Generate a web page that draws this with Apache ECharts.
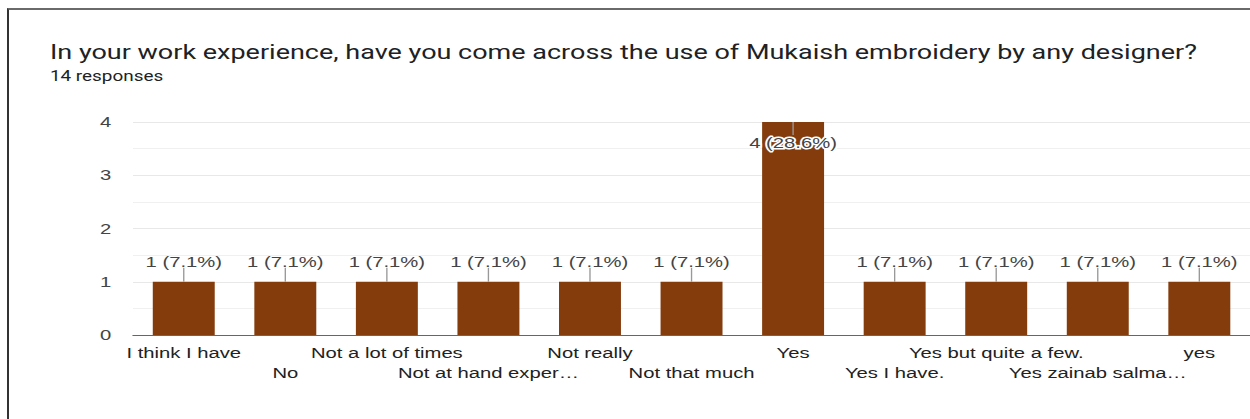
<!DOCTYPE html>
<html>
<head>
<meta charset="utf-8">
<script src="https://cdn.jsdelivr.net/npm/echarts@6/dist/echarts.min.js"></script>
<style>
  html, body { margin: 0; padding: 0; background: #fff; overflow: hidden; }
  #frame { position: absolute; left: 7px; top: 8px; width: 1243px; height: 411px;
           border-top: 2px solid #6a6a6a; border-left: 2px solid #333; box-sizing: border-box; }
  /* the card is laid out narrow and widened horizontally */
  #chart { position: absolute; left: 0; top: 0; width: 926px; height: 419px;
           transform: scaleX(1.35); transform-origin: 0 0; }
</style>
</head>
<body>
<div id="frame"></div>
<div id="chart"></div>
<script>
// Survey answers and their response counts
const categories = [
  'I think I have', 'No', 'Not a lot of times', 'Not at hand exper\u2026',
  'Not really', 'Not that much', 'Yes', 'Yes I have.',
  'Yes but quite a few.', 'Yes zainab salma\u2026', 'yes'
];
const counts = [1, 1, 1, 1, 1, 1, 4, 1, 1, 1, 1];
const totalResponses = 14;
const yTicks = [0, 1, 2, 3, 4];

const titleText = 'In your work experience, have you come across the use of Mukaish embroidery by any designer?';
const subtitleText = totalResponses + ' responses';

const barColor = '#843c0c';
const yMax = yTicks[yTicks.length - 1];

function pct(v) {
  return (Math.round(v / totalResponses * 1000) / 10).toFixed(1);
}

const chart = echarts.init(document.getElementById('chart'), null, { renderer: 'svg' });

chart.setOption({
  animation: false,
  title: [
    { text: titleText, left: 32, top: 37,
      textStyle: { fontFamily: 'Roboto', fontSize: 20, fontWeight: 'normal', color: '#202124' } },
    { text: subtitleText, left: 32, top: 64,
      textStyle: { fontFamily: 'Roboto', fontSize: 14, fontWeight: 'normal', color: '#202124' } }
  ],
  grid: { left: 98.5, top: 122, width: 831, height: 213, containLabel: false },
  xAxis: {
    type: 'category',
    data: categories,
    axisTick: { show: false },
    axisLine: { lineStyle: { color: '#666', width: 1 } },
    axisLabel: {
      interval: 0,
      margin: 8,
      fontFamily: 'Liberation Sans, Arial',
      fontSize: 15,
      color: '#222',
      lineHeight: 20,
      formatter: (v, i) => (i % 2 === 1 ? '\n' + v : v)
    }
  },
  yAxis: {
    type: 'value',
    min: 0,
    max: yMax,
    interval: 1,
    axisLine: { show: false },
    axisTick: { show: false },
    axisLabel: {
      margin: 16,
      fontFamily: 'Liberation Sans, Arial',
      fontSize: 15,
      color: '#444',
      formatter: v => (yTicks.indexOf(v) >= 0 ? String(v) : '')
    },
    splitLine: { lineStyle: { color: '#e8e8e8' } },
    minorTick: { show: false, splitNumber: 2 },
    minorSplitLine: { show: true, lineStyle: { color: '#f0f0f0' } }
  },
  series: [
    {
      type: 'bar',
      data: counts,
      barWidth: '61%',
      itemStyle: { color: barColor },
      z: 2
    },
    {
      // value annotations with a short leader tick
      type: 'custom',
      data: counts.map((v, i) => [i, v]),
      z: 5,
      renderItem: (params, api) => {
        const i = api.value(0);
        const v = api.value(1);
        const top = api.coord([i, v]);
        const text = v + ' (' + pct(v) + '%)';
        const inside = v >= yMax;
        const font = '15px "Liberation Sans", Arial';
        if (inside) {
          return {
            type: 'group',
            children: [
              { type: 'line', shape: { x1: top[0], y1: top[1], x2: top[0], y2: top[1] + 13 },
                style: { stroke: '#999', lineWidth: 1 } },
              { type: 'text', x: top[0], y: top[1] + 21,
                style: { text: text, font: font, fill: '#444', align: 'center', verticalAlign: 'middle',
                         stroke: '#fff', lineWidth: 3 } }
            ]
          };
        }
        return {
          type: 'group',
          children: [
            { type: 'line', shape: { x1: top[0], y1: top[1], x2: top[0], y2: top[1] - 14 },
              style: { stroke: '#999', lineWidth: 1 } },
            { type: 'text', x: top[0], y: top[1] - 20,
              style: { text: text, font: font, fill: '#444', align: 'center', verticalAlign: 'middle' } }
          ]
        };
      }
    }
  ]
});
</script>
</body>
</html>
